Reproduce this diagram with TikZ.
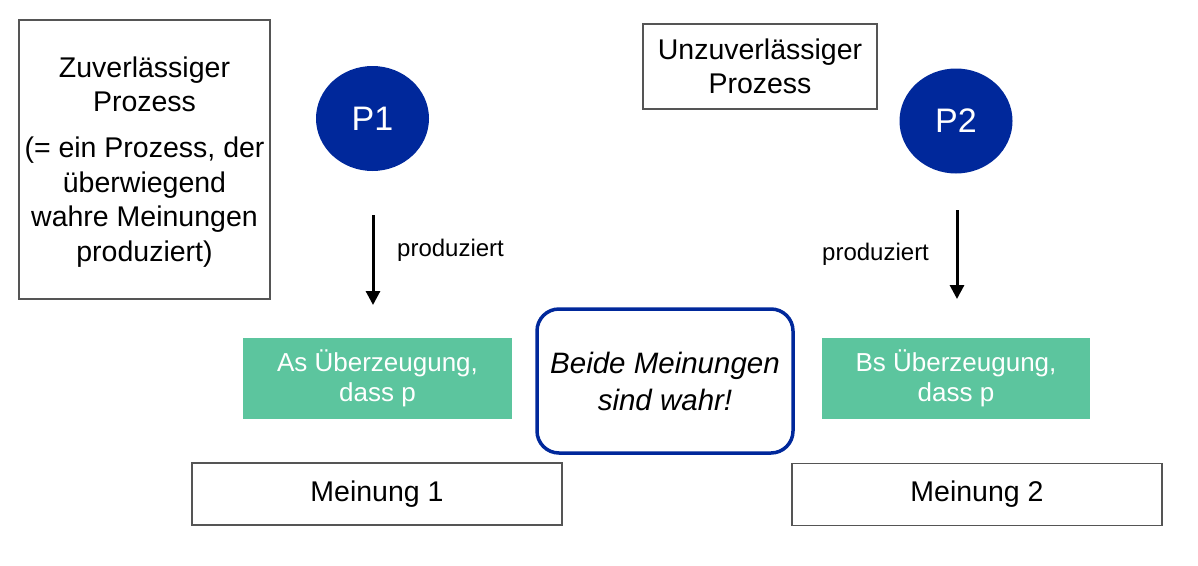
\documentclass[tikz,border=0pt]{standalone}
\usepackage{fontspec}
\setmainfont{Liberation Sans}
\usetikzlibrary{arrows.meta,shapes.geometric}
\definecolor{pblue}{RGB}{0,40,155}
\definecolor{pgreen}{RGB}{92,197,158}
\definecolor{bordergray}{RGB}{85,85,85}
\tikzset{
  plainbox/.style={draw=bordergray, line width=1.3pt, fill=white, inner sep=0pt, align=center, font=\fontsize{28.5}{34.4}\selectfont},
  procnode/.style={ellipse, fill=pblue, text=white, minimum width=113pt, minimum height=105pt, inner sep=0pt, font=\fontsize{34}{40}\selectfont},
  beliefbox/.style={fill=pgreen, text=white, minimum width=269pt, minimum height=81pt, inner sep=0pt, align=center, font=\fontsize{26}{29.5}\selectfont},
  truthbox/.style={draw=pblue, line width=3.5pt, rounded corners=22pt, fill=white, minimum width=256pt, minimum height=144pt, inner sep=0pt, align=center, font=\fontsize{29.5}{37}\selectfont\itshape},
  opinionbox/.style={plainbox, minimum width=370pt, minimum height=62pt},
  prodarrow/.style={line width=3pt, -{Triangle[length=14pt,width=14pt]}},
  prodlabel/.style={inner sep=0pt, font=\fontsize{24}{28}\selectfont},
}
\begin{document}
\begin{tikzpicture}[x=1pt,y=-1pt]
\useasboundingbox (0,0) rectangle (1198,565);
% left description box
\node[plainbox, minimum width=251pt, minimum height=279pt] (zuv) at (144.5,159.5)
  {\rule{0pt}{25pt}Zuverlässiger\\Prozess\\[12pt](= ein Prozess, der\\überwiegend\\wahre Meinungen\\produziert)};
% right description box
\node[plainbox, minimum width=234pt, minimum height=85pt] (unzuv) at (760,66.5)
  {Unzuverlässiger\\Prozess};
% processes
\node[procnode] (p1) at (372.5,118.5) {P1};
\node[procnode] (p2) at (956,121) {P2};
% arrows
\coordinate (a1s) at (373,215);
\coordinate (a1e) at (373,305);
\coordinate (a2s) at (957,210);
\coordinate (a2e) at (957,299);
\draw[prodarrow] (a1s) -- (a1e);
\draw[prodarrow] (a2s) -- (a2e);
\node[prodlabel, anchor=base west] (l1) at (397,256) {produziert};
\node[prodlabel, anchor=base west] (l2) at (822,260) {produziert};
% beliefs
\node[beliefbox] (ga) at (377.5,378.5) {As Überzeugung,\\dass p};
\node[beliefbox, minimum width=268pt] (gb) at (956,378.5) {Bs Überzeugung,\\dass p};
% center
\node[truthbox] (both) at (665,381) {Beide Meinungen\\sind wahr!};
% opinions
\node[opinionbox] (m1) at (377,494) {Meinung 1};
\node[opinionbox] (m2) at (977,494.5) {Meinung 2};
\end{tikzpicture}
\end{document}
